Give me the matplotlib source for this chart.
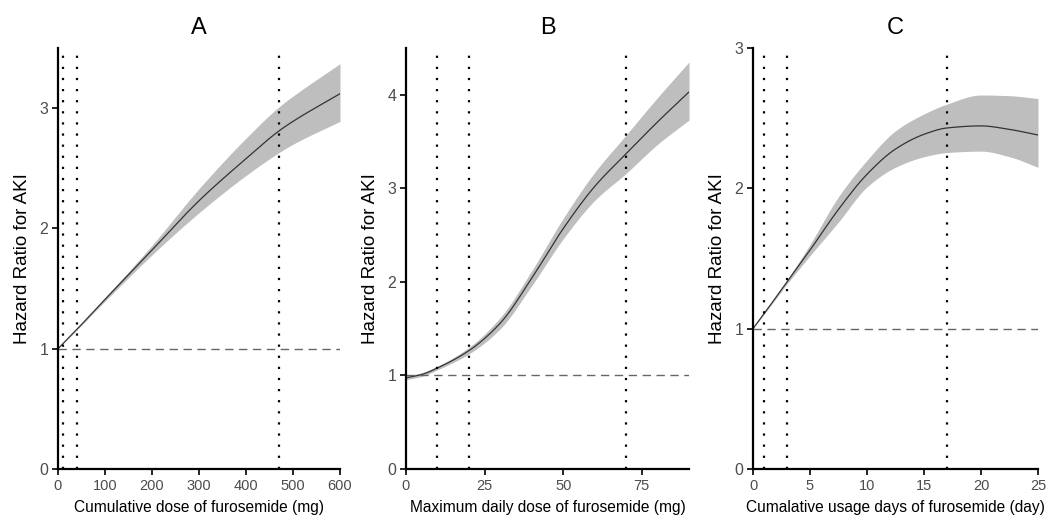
import numpy as np
import matplotlib.pyplot as plt

plt.rcParams['font.family'] = ['Liberation Sans', 'DejaVu Sans']

# panel A: cumulative dose
a_x = [0, 40, 100, 200, 300, 400, 470, 500, 600]
a_hr = [1.0, 1.16, 1.41, 1.82, 2.23, 2.58, 2.81, 2.89, 3.12]
a_lo = [1.0, 1.155, 1.395, 1.78, 2.13, 2.44, 2.63, 2.70, 2.89]
a_hi = [1.0, 1.165, 1.425, 1.86, 2.33, 2.75, 3.01, 3.10, 3.37]
a_cut = [10, 40, 470]

# panel B: max daily dose
b_x = [0, 5, 10, 20, 30, 40, 50, 60, 70, 80, 90]
b_hr = [0.975, 1.01, 1.08, 1.265, 1.56, 2.04, 2.57, 3.02, 3.37, 3.71, 4.03]
b_lo = [0.955, 0.99, 1.06, 1.23, 1.50, 1.96, 2.46, 2.87, 3.16, 3.47, 3.73]
b_hi = [0.995, 1.03, 1.10, 1.30, 1.62, 2.12, 2.68, 3.17, 3.57, 3.97, 4.35]
b_cut = [10, 20, 70]

# panel C: cumulative usage days
c_x = [0, 1, 3, 5, 7.5, 10, 12.5, 15, 17, 20, 22.5, 25]
c_hr = [1.0, 1.11, 1.335, 1.56, 1.85, 2.10, 2.28, 2.385, 2.43, 2.445, 2.42, 2.38]
c_lo = [1.0, 1.105, 1.32, 1.52, 1.76, 2.01, 2.15, 2.225, 2.255, 2.265, 2.225, 2.15]
c_hi = [1.0, 1.115, 1.35, 1.60, 1.94, 2.20, 2.41, 2.53, 2.60, 2.665, 2.66, 2.64]
c_cut = [1, 3, 17]

titles = ['A', 'B', 'C']
xlabels = ['Cumulative dose of furosemide (mg)',
           'Maximum daily dose of furosemide (mg)',
           'Cumalative usage days of furosemide (day)']
xlims = [(0, 600), (0, 90), (0, 25)]
ylims = [(0, 3.5), (0, 4.5), (0, 3)]
xticks = [[0, 100, 200, 300, 400, 500, 600], [0, 25, 50, 75], [0, 5, 10, 15, 20, 25]]
yticks = [[0, 1, 2, 3], [0, 1, 2, 3, 4], [0, 1, 2, 3]]

panels = [(a_x, a_hr, a_lo, a_hi, a_cut),
          (b_x, b_hr, b_lo, b_hi, b_cut),
          (c_x, c_hr, c_lo, c_hi, c_cut)]


def pchip(x, y, xs):
    # monotone cubic through the read points, only to draw them smooth
    x = np.asarray(x, float)
    y = np.asarray(y, float)
    h = np.diff(x)
    dl = np.diff(y) / h
    n = len(x)
    m = np.zeros(n)
    for k in range(1, n - 1):
        if dl[k - 1] * dl[k] > 0:
            w1 = 2 * h[k] + h[k - 1]
            w2 = h[k] + 2 * h[k - 1]
            m[k] = (w1 + w2) / (w1 / dl[k - 1] + w2 / dl[k])
    m[0] = dl[0]
    m[-1] = dl[-1]
    idx = np.clip(np.searchsorted(x, xs) - 1, 0, n - 2)
    t = (xs - x[idx]) / h[idx]
    h00 = 2 * t ** 3 - 3 * t ** 2 + 1
    h10 = t ** 3 - 2 * t ** 2 + t
    h01 = -2 * t ** 3 + 3 * t ** 2
    h11 = t ** 3 - t ** 2
    return (h00 * y[idx] + h10 * h[idx] * m[idx]
            + h01 * y[idx + 1] + h11 * h[idx] * m[idx + 1])


fig = plt.figure(figsize=(10.48, 5.18), dpi=100)
W, H = 1048, 518
boxes = [(58, 340), (406, 689), (753, 1038)]
top, bottom = 48, 469

for i, (x, hr, lo, hi, cut) in enumerate(panels):
    l, r = boxes[i]
    ax = fig.add_axes([l / W, 1 - bottom / H, (r - l) / W, (bottom - top) / H])
    xs = np.linspace(x[0], x[-1], 400)
    ax.fill_between(xs, pchip(x, lo, xs), pchip(x, hi, xs),
                    color='#bebebe', lw=0)
    ax.plot(xs, pchip(x, hr, xs), color='#333333', lw=0.9)
    ax.axhline(1, color='#666666', lw=1, ls=(0, (6, 4)))
    y_top = ylims[i][1] - (53 - top) / (bottom - top) * ylims[i][1]
    for c in cut:
        ax.plot([c, c], [0, y_top], color='black', lw=1.6, ls=(0, (1, 4)))
    ax.set_xlim(*xlims[i])
    ax.set_ylim(*ylims[i])
    ax.set_xticks(xticks[i])
    ax.set_yticks(yticks[i])
    for s in ['top', 'right']:
        ax.spines[s].set_visible(False)
    for s in ['left', 'bottom']:
        ax.spines[s].set_linewidth(1.6)
    ax.tick_params(direction='out', length=4, width=1.2, labelsize=10.5,
                   labelcolor='#4d4d4d', pad=3)
    ax.tick_params(axis='y', labelsize=11.5)
    ax.set_title(titles[i], fontsize=17, pad=10)
    ax.set_xlabel(xlabels[i], fontsize=11.2, labelpad=5)
    ax.set_ylabel('Hazard Ratio for AKI', fontsize=13.5, labelpad=6)

fig.savefig('out.png', dpi=100)
